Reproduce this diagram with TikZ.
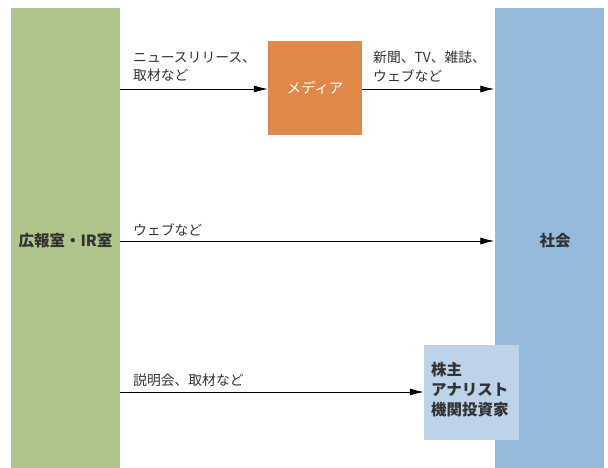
\documentclass[tikz,border=0pt]{standalone}
\usepackage{fontspec}
\setmainfont{Noto Sans CJK JP}
\usetikzlibrary{arrows.meta}
\definecolor{greenbar}{RGB}{174,198,140}
\definecolor{bluebar}{RGB}{148,187,220}
\definecolor{orangebox}{RGB}{224,135,74}
\definecolor{lightbox}{RGB}{189,211,232}
\definecolor{txt}{RGB}{50,50,50}
\tikzset{
  bar/.style={inner sep=0pt, minimum width=109pt, minimum height=460pt},
  conn/.style={-{Latex[length=14pt,width=7pt]}, line width=0.8pt, black},
  lbl/.style={font=\fontsize{13.8}{18.5}\selectfont, text=txt, align=left, anchor=south west, inner sep=0pt},
  bold/.style={font=\fontsize{15.5}{20}\selectfont\bfseries, text=txt}
}
\begin{document}
\begin{tikzpicture}[x=1pt,y=-1pt]
\useasboundingbox (0,0) rectangle (608,468);
\node[bar, fill=greenbar] (left) at (65.5,238) {};
\node[bar, fill=bluebar] (right) at (549,238) {};
\node[bold, inner sep=0pt] (lt) at (65.5,241) {広報室・IR室};
\node[bold, inner sep=0pt] (rt) at (555,241) {社会};
\node[fill=orangebox, minimum width=94pt, minimum height=94pt, inner sep=0pt, text=white, font=\fontsize{14.5}{16}\selectfont] (media) at (315,88) {メディア};
\node[fill=lightbox, minimum width=95pt, minimum height=95pt, inner sep=0pt] (sh) at (471.5,392.5) {};
\node[bold, align=left, anchor=west, inner sep=0pt, font=\fontsize{15.5}{20}\selectfont\bfseries] (shtext) at (431,390) {株主\\アナリスト\\機関投資家};
\coordinate (a1) at (120,89);
\coordinate (a2) at (362,89);
\coordinate (b1) at (120,241);
\coordinate (c1) at (120,392);
\draw[conn] (a1) -- (a1 -| media.west);
\draw[conn] (a2) -- (a2 -| right.west);
\draw[conn] (b1) -- (b1 -| right.west);
\draw[conn] (c1) -- (c1 -| sh.west);
\node[lbl] (l1) at (133,82) {ニュースリリース、\\取材など};
\node[lbl] (l2) at (373,82) {新聞、TV、雑誌、\\ウェブなど};
\node[lbl] (l3) at (133,236) {ウェブなど};
\node[lbl] (l4) at (133,387) {説明会、取材など};
\end{tikzpicture}
\end{document}
